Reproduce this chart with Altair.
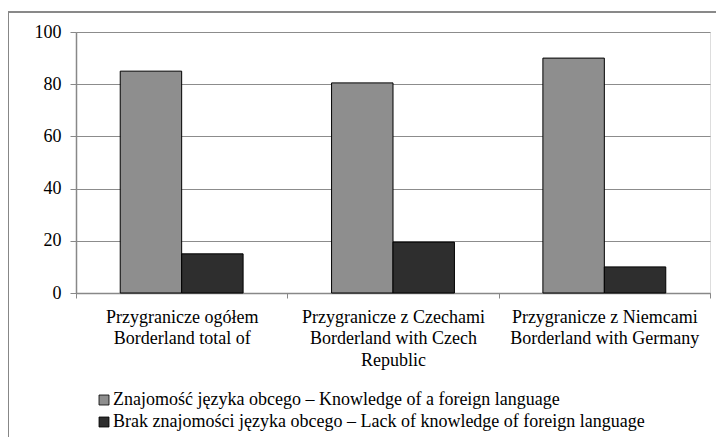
import altair as alt
import pandas as pd

categories = [
    "Przygranicze ogółem|Borderland total of",
    "Przygranicze z Czechami|Borderland with Czech|Republic",
    "Przygranicze z Niemcami|Borderland with Germany",
]
series_names = [
    "Znajomość języka obcego – Knowledge of a foreign language",
    "Brak znajomości języka obcego – Lack of knowledge of foreign language",
]
knowledge = [85.0, 80.5, 90.0]
lack = [15.0, 19.5, 10.0]
series_colors = ["#8e8e8e", "#2e2e2e"]

rows = []
for i, c in enumerate(categories):
    rows.append({"cat": c, "series": series_names[0], "value": knowledge[i]})
    rows.append({"cat": c, "series": series_names[1], "value": lack[i]})
df = pd.DataFrame(rows)

FONT = "Times New Roman"
FS = 18

bars = alt.Chart(df).mark_bar(stroke="black", strokeWidth=1).encode(
    x=alt.X(
        "cat:N",
        sort=categories,
        title=None,
        scale=alt.Scale(paddingInner=0, paddingOuter=0),
        axis=alt.Axis(
            labelExpr="split(datum.label, '|')",
            labelAngle=0,
            labelFont=FONT,
            labelFontSize=FS,
            labelColor="black",
            labelLineHeight=21.5,
            labelPadding=10,
            tickBand="extent",
            tickSize=5,
            tickColor="#888888",
            domainColor="#888888",
            domainWidth=1.5,
            labelLimit=300,
        ),
    ),
    xOffset=alt.XOffset(
        "series:N",
        sort=series_names,
        scale=alt.Scale(paddingInner=0, paddingOuter=0.72),
    ),
    y=alt.Y(
        "value:Q",
        title=None,
        scale=alt.Scale(domain=[0, 100]),
        axis=alt.Axis(
            values=[0, 20, 40, 60, 80, 100],
            labelFont=FONT,
            labelFontSize=FS,
            labelColor="black",
            labelPadding=9,
            tickSize=6,
            tickColor="#888888",
            domainColor="#888888",
            domainWidth=1.5,
            gridColor="#8c8c8c",
            gridWidth=1.2,
        ),
    ),
    color=alt.Color(
        "series:N",
        sort=series_names,
        scale=alt.Scale(domain=series_names, range=series_colors),
        legend=alt.Legend(
            title=None,
            orient="none",
            legendX=19,
            legendY=359,
            symbolType="square",
            symbolSize=100,
            symbolStrokeColor="black",
            symbolStrokeWidth=0.8,
            labelFont=FONT,
            labelFontSize=FS,
            labelColor="black",
            labelOffset=0,
            rowPadding=4,
            labelLimit=600,
        ),
    ),
)

frame = alt.Chart(df).mark_rect(
    fill=None, stroke="#888888", strokeWidth=1.2
).encode(
    x=alt.value(-68), x2=alt.value(800), y=alt.value(-20), y2=alt.value(600)
)

chart = alt.layer(frame, bars).properties(
    width=634,
    height=261,
    padding={"left": 68, "top": 24, "right": 6, "bottom": 144},
    autosize=alt.AutoSizeParams(type="none"),
).configure_view(stroke=None).configure(font=FONT)

chart.save("out.html", embed_options={"renderer": "svg", "actions": False})
